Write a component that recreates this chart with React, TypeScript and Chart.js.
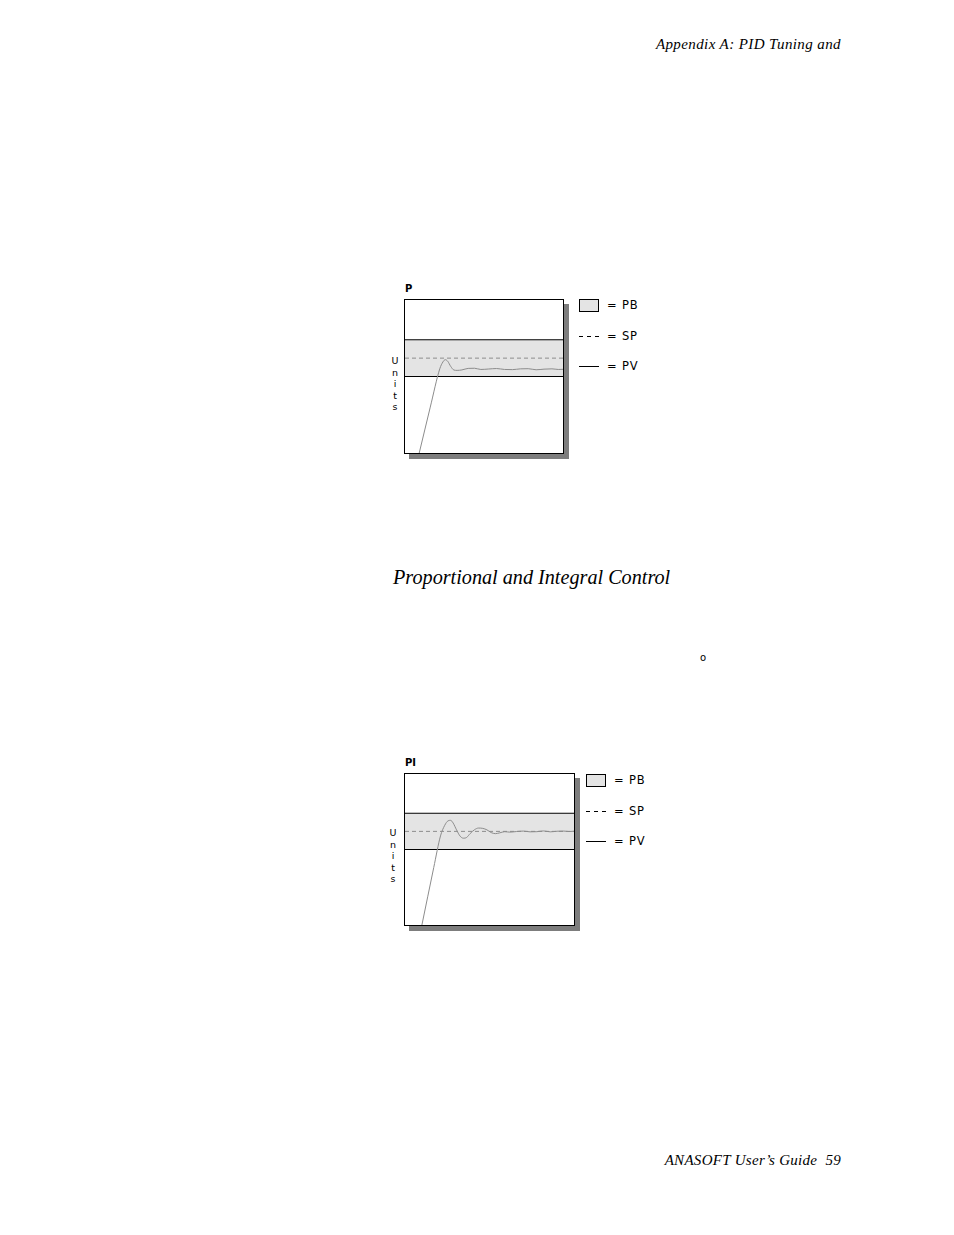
import { useEffect, useRef } from "react";
import { Chart, registerables } from "chart.js";

Chart.register(...registerables);

// time runs 0..100 across the plot, units 0..100 from bottom to top
const pTime = [9, 16, 22, 24, 25.5, 27, 29, 31, 33, 36, 40, 44, 48, 53, 58, 63, 68, 73, 78, 83, 88, 93, 97, 100];
const pValue = [0, 30, 55, 59.5, 61, 60, 56.5, 54.2, 54, 54.3, 55.3, 55.4, 54.6, 54.9, 55.2, 54.6, 54.5, 55, 55.1, 54.4, 54.8, 55, 54.6, 54.7];

const piTime = [10, 17, 21, 23.5, 25.5, 27, 28.5, 30.5, 32.5, 34.5, 36.5, 38.5, 41, 43.5, 46, 48.5, 51, 53.5, 56, 59, 62, 66, 70, 74, 78, 82, 86, 90, 94, 97, 100];
const piValue = [0, 38, 59, 66, 69, 69.3, 67.5, 63, 59, 57.5, 58, 60.5, 63, 64.2, 64, 63, 61.2, 60.5, 61, 61.8, 61.5, 61.9, 62.2, 61.7, 61.8, 62.3, 61.7, 62.1, 62.2, 61.9, 62.1];

const setPoint = 62;
const bandLow = 50;
const bandHigh = 74;
const timeRange = [0, 100];

const legendLabels = ["PB", "SP", "PV"];
const axisLetters = ["U", "n", "i", "t", "s"];

const BAND_FILL = "#e4e4e4";
const LINE_GRAY = "#8c8c8c";
const PIXEL_FONT = "'DejaVu Sans', sans-serif";
const SERIF = "'Liberation Serif', 'Times New Roman', serif";

interface PanelProps {
  title: string;
  time: number[];
  values: number[];
  left: number;
  top: number;
  width: number;
  height: number;
  legendLeft: number;
  legendRows: number[];
  unitsX: number;
  unitsTop: number;
}

function ResponsePanel(props: PanelProps) {
  const canvasRef = useRef<HTMLCanvasElement>(null);
  const { time, values } = props;

  useEffect(() => {
    if (!canvasRef.current) return;
    const ctx = canvasRef.current.getContext("2d");
    if (!ctx) return;

    const flat = (y: number) => timeRange.map((x) => ({ x, y }));

    const chart = new Chart(ctx, {
      type: "line",
      data: {
        datasets: [
          {
            label: "PV",
            data: time.map((t, i) => ({ x: t, y: values[i] })),
            borderColor: LINE_GRAY,
            borderWidth: 1,
            pointRadius: 0,
            cubicInterpolationMode: "monotone",
            fill: false,
          },
          {
            label: "SP",
            data: flat(setPoint),
            borderColor: LINE_GRAY,
            borderWidth: 1,
            borderDash: [4, 3],
            pointRadius: 0,
            fill: false,
          },
          {
            label: "PB high",
            data: flat(bandHigh),
            borderColor: "#000",
            borderWidth: 1,
            pointRadius: 0,
            fill: false,
          },
          {
            label: "PB low",
            data: flat(bandLow),
            borderColor: "#000",
            borderWidth: 1,
            pointRadius: 0,
            backgroundColor: BAND_FILL,
            fill: "-1",
          },
        ],
      },
      options: {
        animation: false,
        responsive: true,
        maintainAspectRatio: false,
        layout: { padding: 0 },
        plugins: {
          legend: { display: false },
          tooltip: { enabled: false },
        },
        scales: {
          x: { type: "linear", min: 0, max: 100, display: false },
          y: { min: 0, max: 100, display: false },
        },
      },
    });

    return () => chart.destroy();
  }, [time, values]);

  const swatch = (i: number) => {
    if (i === 0)
      return <div style={{ width: 20, height: 13, boxSizing: "border-box", border: "1px solid #000", background: BAND_FILL }} />;
    if (i === 1)
      return (
        <div
          style={{
            width: 20,
            height: 1,
            background: "repeating-linear-gradient(to right, #000 0 4px, transparent 4px 8px)",
          }}
        />
      );
    return <div style={{ width: 20, height: 1, background: "#000" }} />;
  };

  return (
    <>
      <div
        style={{
          position: "absolute",
          left: props.left + 1,
          top: props.top - 17,
          font: `bold 10px ${PIXEL_FONT}`,
          lineHeight: "14px",
        }}
      >
        {props.title}
      </div>
      <div
        style={{
          position: "absolute",
          left: props.unitsX - 6,
          top: props.unitsTop,
          width: 12,
          textAlign: "center",
          font: `9.5px ${PIXEL_FONT}`,
          lineHeight: "11.5px",
          color: "#000",
        }}
      >
        {axisLetters.map((l) => (
          <div key={l}>{l}</div>
        ))}
      </div>
      <div
        style={{
          position: "absolute",
          left: props.left,
          top: props.top,
          width: props.width,
          height: props.height,
          boxSizing: "border-box",
          border: "1px solid #000",
          background: "#fff",
          boxShadow: "5px 5px 0 #7d7d7d",
        }}
      >
        <canvas ref={canvasRef} />
      </div>
      {legendLabels.map((label, i) => (
        <div
          key={label}
          style={{
            position: "absolute",
            left: props.legendLeft,
            top: props.legendRows[i] - 8,
            height: 16,
            display: "flex",
            alignItems: "center",
            font: `11.5px ${PIXEL_FONT}`,
            letterSpacing: "0.8px",
            color: "#000",
          }}
        >
          <div style={{ width: 20 }}>{swatch(i)}</div>
          <span style={{ marginLeft: 8, whiteSpace: "pre" }}>{"= " + label}</span>
        </div>
      ))}
    </>
  );
}

export default function App() {
  return (
    <div
      style={{
        position: "absolute",
        left: 0,
        top: 0,
        width: 954,
        height: 1235,
        background: "#fff",
        color: "#000",
        overflow: "hidden",
      }}
    >
      <div
        style={{
          position: "absolute",
          right: 113,
          top: 35,
          font: `italic 15px ${SERIF}`,
          letterSpacing: "0.4px",
          lineHeight: "18px",
        }}
      >
        Appendix A: PID Tuning and
      </div>

      <ResponsePanel
        title="P"
        time={pTime}
        values={pValue}
        left={404}
        top={299}
        width={160}
        height={155}
        legendLeft={579}
        legendRows={[305, 336, 366]}
        unitsX={395}
        unitsTop={355}
      />

      <div
        style={{
          position: "absolute",
          left: 393,
          top: 565,
          font: `italic 20.2px ${SERIF}`,
          lineHeight: "24px",
        }}
      >
        Proportional and Integral Control
      </div>

      <div
        style={{
          position: "absolute",
          left: 700,
          top: 651,
          font: `10px ${PIXEL_FONT}`,
          lineHeight: "14px",
        }}
      >
        o
      </div>

      <ResponsePanel
        title="PI"
        time={piTime}
        values={piValue}
        left={404}
        top={773}
        width={171}
        height={153}
        legendLeft={586}
        legendRows={[780, 811, 841]}
        unitsX={393}
        unitsTop={827}
      />

      <div
        style={{
          position: "absolute",
          right: 113,
          top: 1151,
          font: `italic 15px ${SERIF}`,
          letterSpacing: "0.3px",
          lineHeight: "18px",
          whiteSpace: "pre",
        }}
      >
        {"ANASOFT User’s Guide  59"}
      </div>
    </div>
  );
}
